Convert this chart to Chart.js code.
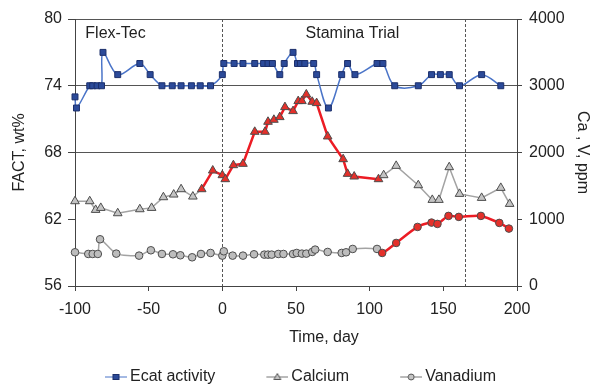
<!DOCTYPE html>
<html>
<head>
<meta charset="utf-8">
<script src="https://cdn.jsdelivr.net/npm/chart.js@4.4.1/dist/chart.umd.min.js"></script>
<style>
  html, body { margin: 0; padding: 0; background: #fff; }
</style>
</head>
<body>
<canvas id="fact_chart" width="597" height="385"></canvas>
<script>
// Ecat activity (left axis, wt%)
const ecat_days = [-100, -99, -90, -88, -85, -82, -81, -71, -56, -49, -41, -34, -28, -21, -15, -8,
  0, 1, 8, 14, 22, 28, 31, 34, 39, 42, 48, 51, 53, 56, 62, 64, 72, 81, 85, 90, 105, 109,
  117, 133, 142, 148, 154, 161, 176, 189];
const ecat_fact = [73, 72, 74, 74, 74, 74, 77, 75, 76, 75, 74, 74, 74, 74, 74, 74,
  75, 76, 76, 76, 76, 76, 76, 76, 75, 76, 77, 76, 76, 76, 76, 75, 72, 75, 76, 75, 76, 76,
  74, 74, 75, 75, 75, 74, 75, 74];

// Calcium (right axis, ppm)
const ca_days = [-100, -90, -86, -82.5, -71, -56, -48, -40, -33, -28, -20, -14, -6.5, 0, 2,
  7.5, 14, 22, 29, 31, 35, 39, 42.5, 48, 51.5, 54, 57, 61, 64, 71.5, 82, 85, 89.5, 106, 109.5,
  118, 133, 142.5, 147, 154, 161, 176, 189, 195];
const ca_ppm = [1270, 1270, 1140, 1170, 1090, 1150, 1170, 1330, 1370, 1450, 1340, 1450, 1730, 1660, 1600,
  1810, 1830, 2310, 2310, 2460, 2490, 2530, 2680, 2620, 2770, 2770, 2870, 2760, 2740, 2240, 1900, 1680, 1640, 1600, 1660,
  1800, 1510, 1290, 1290, 1780, 1380, 1320, 1470, 1230];

// Vanadium (right axis, ppm)
const v_days = [-100, -91, -88, -84.5, -83, -72, -56.5, -48.5, -41, -33.5, -28.5, -20.5, -14.5, -8, 0,
  1, 7, 14, 21.5, 28.5, 31, 33.5, 38, 41.5, 48, 50.5, 54, 57, 61, 63, 71.5, 81, 84, 88.5, 105,
  108.5, 118, 132.5, 142, 146, 153.5, 160.5, 175.5, 188, 194.5];
const v_ppm = [505, 480, 480, 480, 700, 485, 455, 535, 480, 475, 460, 430, 480, 495, 455,
  520, 455, 455, 475, 470, 470, 470, 480, 480, 480, 495, 485, 485, 510, 545, 510, 495, 505, 555, 555,
  495, 645, 885, 950, 930, 1050, 1035, 1050, 945, 860];

// periods drawn in red, and phase boundaries
const ca_red_from = -14, ca_red_to = 106;
const v_red_from = 108;
const phase_days = [0, 165];
const phase_labels = ['Flex-Tec', 'Stamina Trial'];
const phase_label_days = [-93, 56.5];

const series_names = ['Ecat activity', 'Calcium', 'Vanadium'];
const fact_ticks = [56, 62, 68, 74, 80];
const fact_grid = [68, 74, 80];
const x_title = 'Time, day';

const RED = '#ec1c24';
const GRAY = '#a3a3a3';
const FONT = "'Liberation Sans', Arial, sans-serif";

function pts(xs, ys) {
  return xs.map(function(x, i) { return {x: x, y: ys[i]}; });
}

Chart.defaults.font.family = FONT;
Chart.defaults.font.size = 16;
Chart.defaults.color = '#222';

function caRed(x0, x1) { return x0 >= ca_red_from && x1 <= ca_red_to; }

// small line + marker pictures for the legend
function legendIcon(kind, line) {
  const c = document.createElement('canvas');
  c.width = 31; c.height = 12;
  const g = c.getContext('2d');
  g.strokeStyle = line; g.lineWidth = 1;
  g.beginPath(); g.moveTo(9, 6); g.lineTo(31, 6); g.stroke();
  if (kind === 'rect') {
    g.fillStyle = '#2b4a99'; g.strokeStyle = '#1c2f6b';
    g.fillRect(17, 3.5, 6, 5); g.strokeRect(17, 3.5, 6, 5);
  } else if (kind === 'triangle') {
    g.fillStyle = '#c4c4c4'; g.strokeStyle = '#555';
    g.beginPath(); g.moveTo(20, 2.5); g.lineTo(23.5, 8.5); g.lineTo(16.5, 8.5); g.closePath();
    g.fill(); g.stroke();
  } else {
    g.fillStyle = '#c4c4c4'; g.strokeStyle = '#555';
    g.beginPath(); g.arc(20, 6, 3, 0, Math.PI * 2); g.fill(); g.stroke();
  }
  return c;
}
const legend_icons = [legendIcon('rect', '#4a74c8'), legendIcon('triangle', '#777'), legendIcon('circle', '#777')];

const phasePlugin = {
  id: 'phases',
  beforeDatasetsDraw: function(chart) {
    const ctx = chart.ctx, a = chart.chartArea, sx = chart.scales.x, sy = chart.scales.y;
    ctx.save();
    ctx.strokeStyle = '#555';
    ctx.lineWidth = 1;
    ctx.setLineDash([3, 2]);
    phase_days.forEach(function(d) {
      const px = Math.round(sx.getPixelForValue(d)) + 0.5;
      ctx.beginPath(); ctx.moveTo(px, a.top); ctx.lineTo(px, a.bottom); ctx.stroke();
    });
    ctx.setLineDash([]);
    ctx.fillStyle = '#222';
    ctx.font = '16px ' + FONT;
    ctx.textBaseline = 'middle';
    phase_labels.forEach(function(t, i) {
      ctx.fillText(t, sx.getPixelForValue(phase_label_days[i]), sy.getPixelForValue(78.65));
    });
    // x axis title sits right of centre in the original
    ctx.textAlign = 'center';
    ctx.fillText(x_title, sx.getPixelForValue(69), a.bottom + 52);
    ctx.restore();
  }
};

const config = {
  type: 'line',
  data: {
    datasets: [{
      label: series_names[0],
      data: pts(ecat_days, ecat_fact),
      yAxisID: 'y',
      borderColor: '#4a74c8',
      borderWidth: 1.5,
      tension: 0.35,
      pointStyle: 'rect',
      pointRadius: 4.2,
      pointBackgroundColor: '#2b4a99',
      pointBorderColor: '#1c2f6b',
      pointBorderWidth: 1,
      clip: false
    }, {
      label: series_names[1],
      data: pts(ca_days, ca_ppm),
      yAxisID: 'y2',
      borderColor: GRAY,
      borderWidth: 1.5,
      tension: 0,
      segment: {
        borderColor: function(ctx) { return caRed(ctx.p0.parsed.x, ctx.p1.parsed.x) ? RED : GRAY; },
        borderWidth: function(ctx) { return caRed(ctx.p0.parsed.x, ctx.p1.parsed.x) ? 2.5 : 1.5; }
      },
      pointStyle: 'triangle',
      pointRadius: 5,
      pointBackgroundColor: function(ctx) {
        const x = ctx.raw && ctx.raw.x;
        return (x >= ca_red_from && x <= ca_red_to) ? '#e4302a' : '#c4c4c4';
      },
      pointBorderColor: '#4d4d4d',
      pointBorderWidth: 1,
      clip: false
    }, {
      label: series_names[2],
      data: pts(v_days, v_ppm),
      yAxisID: 'y2',
      borderColor: GRAY,
      borderWidth: 1.5,
      tension: 0.25,
      segment: {
        borderColor: function(ctx) { return ctx.p0.parsed.x >= v_red_from ? RED : GRAY; },
        borderWidth: function(ctx) { return ctx.p0.parsed.x >= v_red_from ? 2.5 : 1.5; }
      },
      pointStyle: 'circle',
      pointRadius: 3.8,
      pointBackgroundColor: function(ctx) {
        const x = ctx.raw && ctx.raw.x;
        return x >= v_red_from ? '#e4302a' : '#bdbdbd';
      },
      pointBorderColor: '#4d4d4d',
      pointBorderWidth: 1,
      clip: false
    }]
  },
  options: {
    responsive: false,
    animation: false,
    devicePixelRatio: 1,
    layout: { padding: { top: 19, left: 0, right: 0, bottom: -10 } },
    plugins: {
      tooltip: { enabled: false },
      legend: {
        position: 'bottom',
        labels: {
          usePointStyle: true,
          pointStyleWidth: 21,
          padding: 47,
          color: '#222',
          font: { size: 16 },
          generateLabels: function(chart) {
            const items = Chart.defaults.plugins.legend.labels.generateLabels(chart);
            items.forEach(function(it, i) { it.pointStyle = legend_icons[i]; });
            return items;
          }
        }
      }
    },
    scales: {
      x: {
        type: 'linear',
        min: -100, max: 200,
        ticks: { stepSize: 50, padding: 9, color: '#222' },
        grid: { drawOnChartArea: false, tickLength: 5, tickColor: '#444' },
        border: { color: '#444' },
        afterFit: function(s) { s.height = 36; }
      },
      y: {
        position: 'left',
        min: 56, max: 80,
        afterBuildTicks: function(s) { s.ticks = fact_ticks.map(function(v) { return {value: v}; }); },
        ticks: { padding: 6, color: '#222' },
        grid: {
          color: function(ctx) { return (ctx.tick && fact_grid.includes(ctx.tick.value)) ? '#555' : 'rgba(0,0,0,0)'; },
          tickColor: '#444',
          tickLength: 7
        },
        border: { color: '#444' },
        title: { display: true, text: 'FACT, wt%', color: '#222', padding: { top: 10, bottom: 0 } },
        afterFit: function(s) { s.width = 75; }
      },
      y2: {
        position: 'right',
        min: 0, max: 4000,
        ticks: { stepSize: 1000, padding: 7, color: '#222', callback: function(v) { return String(v); } },
        grid: { drawOnChartArea: false, tickColor: '#444', tickLength: 5 },
        border: { color: '#444' },
        title: { display: true, text: 'Ca , V, ppm', color: '#222', padding: { top: 5, bottom: 0 } },
        afterFit: function(s) { s.width = 80; }
      }
    }
  },
  plugins: [phasePlugin]
};

const factChart = new Chart(document.getElementById('fact_chart'), config);
</script>
</body>
</html>
